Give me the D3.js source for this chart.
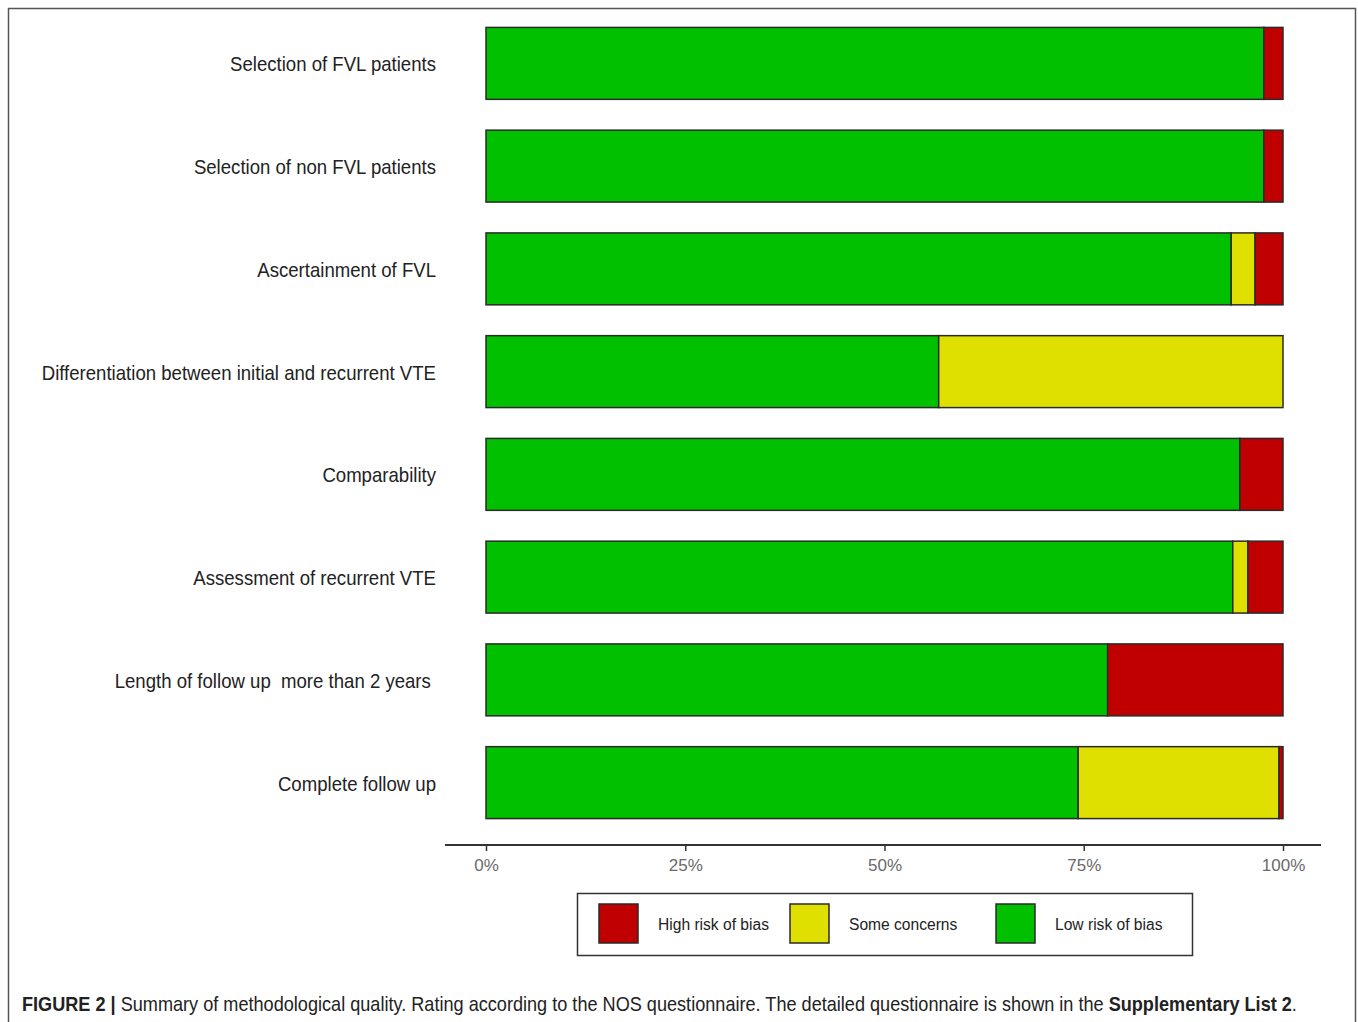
<!DOCTYPE html>
<html lang="en">
	<head>
		<meta charset="utf-8">
		<title>Risk of bias summary</title>
		<script type="text/javascript" src="https://cdn.jsdelivr.net/npm/d3@7"></script>
		<style type="text/css">
			body {
				margin: 0;
				background: #fff;
			}
			text {
				font-family: "Liberation Sans", Arial, sans-serif;
			}
			.label {
				font-size: 20px;
				fill: #222;
				white-space: pre;
			}
			.x.axis text {
				font-size: 17px;
				fill: #6a6a6a;
			}
			.x.axis line {
				stroke: #333;
				stroke-width: 1.5;
			}
			.legend text {
				font-size: 15.6px;
				fill: #222;
			}
		</style>
	</head>
	<body>
		<script type="text/javascript">
			//Data (percent of studies)
			var domains = [
				"Selection of FVL patients",
				"Selection of non FVL patients",
				"Ascertainment of FVL",
				"Differentiation between initial and recurrent VTE",
				"Comparability",
				"Assessment of recurrent VTE",
				"Length of follow up  more than 2 years ",
				"Complete follow up"
			];
			var lowRisk = [97.6, 97.6, 93.5, 56.8, 94.6, 93.7, 78.0, 74.3];
			var someConcerns = [0, 0, 3.0, 43.2, 0, 1.9, 0, 25.2];
			var highRisk = [2.4, 2.4, 3.5, 0, 5.4, 4.4, 22.0, 0.5];

			var ticks = [0, 25, 50, 75, 100];
			var legendLabels = ["High risk of bias", "Some concerns", "Low risk of bias"];
			var legendColors = ["#c00000", "#e0e000", "#00c000"];

			var caption = [
				{ text: "FIGURE 2 | ", bold: true },
				{ text: "Summary of methodological quality. Rating according to the NOS questionnaire. The detailed questionnaire is shown in the ", bold: false },
				{ text: "Supplementary List 2", bold: true },
				{ text: ".", bold: false }
			];

			var w = 1358;
			var h = 1022;

			var svg = d3.select("body")
				.append("svg")
				.attr("width", w)
				.attr("height", h);

			//Outer frame (bottom edge runs off the picture)
			svg.append("rect")
				.attr("x", 8.5)
				.attr("y", 8.5)
				.attr("width", 1347)
				.attr("height", 1030)
				.attr("fill", "none")
				.attr("stroke", "#555")
				.attr("stroke-width", 1.5);

			var xScale = d3.scaleLinear()
				.domain([0, 100])
				.range([486, 1283]);

			var yScale = d3.scaleBand()
				.domain(domains)
				.range([12, 834])
				.paddingInner(0.3)
				.paddingOuter(0.15);

			//Stack: low, some, high from the left
			var rows = domains.map(function(d, i) {
				return { domain: d, low: lowRisk[i], some: someConcerns[i], high: highRisk[i] };
			});
			var stack = d3.stack().keys(["low", "some", "high"]);
			var series = stack(rows);
			var colorFor = { low: "#00c000", some: "#e0e000", high: "#c00000" };

			svg.append("g")
				.attr("class", "bars")
				.selectAll("g")
				.data(series)
				.enter()
				.append("g")
				.attr("fill", function(s) { return colorFor[s.key]; })
				.selectAll("rect")
				.data(function(s) { return s.filter(function(p) { return p[1] - p[0] > 0; }); })
				.enter()
				.append("rect")
				.attr("x", function(p) { return xScale(p[0]); })
				.attr("y", function(p) { return yScale(p.data.domain); })
				.attr("width", function(p) { return xScale(p[1]) - xScale(p[0]); })
				.attr("height", yScale.bandwidth())
				.attr("stroke", "#2a2a2a")
				.attr("stroke-width", 1.5);

			//Category labels (the source font is a touch narrow)
			svg.append("g")
				.selectAll("text")
				.data(domains)
				.enter()
				.append("text")
				.attr("class", "label")
				.attr("text-anchor", "end")
				.attr("transform", function(d) {
					return "translate(436," + (yScale(d) + yScale.bandwidth() / 2 + 1) + ") scale(0.93,1)";
				})
				.attr("dy", "0.35em")
				.text(function(d) { return d; });

			//X axis
			var axisY = 845;
			svg.append("line")
				.attr("x1", 445)
				.attr("x2", 1321)
				.attr("y1", axisY)
				.attr("y2", axisY)
				.attr("stroke", "#333")
				.attr("stroke-width", 2);

			var xAxis = d3.axisBottom(xScale)
				.tickValues(ticks)
				.tickSize(6)
				.tickPadding(8)
				.tickFormat(function(d) { return d + "%"; });

			svg.append("g")
				.attr("class", "x axis")
				.attr("transform", "translate(0," + axisY + ")")
				.call(xAxis)
				.call(function(g) { g.select(".domain").remove(); });

			//Legend
			var legend = svg.append("g").attr("class", "legend");
			legend.append("rect")
				.attr("x", 577.5)
				.attr("y", 893.5)
				.attr("width", 615)
				.attr("height", 62)
				.attr("fill", "#fff")
				.attr("stroke", "#333")
				.attr("stroke-width", 1.5);

			var legendX = [599, 790, 996];
			var item = legend.selectAll("g.item")
				.data(legendLabels)
				.enter()
				.append("g")
				.attr("class", "item")
				.attr("transform", function(d, i) { return "translate(" + legendX[i] + ",904)"; });
			item.append("rect")
				.attr("width", 39)
				.attr("height", 39)
				.attr("fill", function(d, i) { return legendColors[i]; })
				.attr("stroke", "#2a2a2a")
				.attr("stroke-width", 1.5);
			item.append("text")
				.attr("x", 59)
				.attr("y", 21)
				.attr("dy", "0.35em")
				.text(function(d) { return d; });

			//Caption, squeezed to the width it takes in the figure
			var capG = svg.append("g");
			var cap = capG.append("text")
				.attr("font-size", 20)
				.attr("fill", "#222")
				.style("white-space", "pre");
			cap.selectAll("tspan")
				.data(caption)
				.enter()
				.append("tspan")
				.attr("font-weight", function(d) { return d.bold ? "bold" : "normal"; })
				.text(function(d) { return d.text; });
			var capWidth = cap.node().getComputedTextLength();
			capG.attr("transform", "translate(22,1011) scale(" + (1275 / capWidth) + ",1)");
		</script>
	</body>
</html>
